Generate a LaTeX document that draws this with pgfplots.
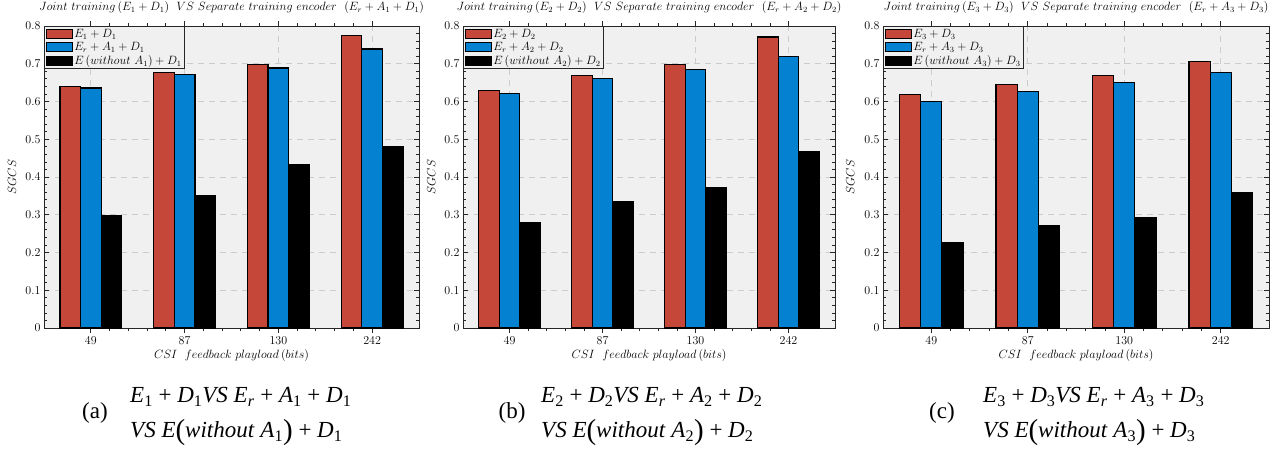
\documentclass[border=0pt]{standalone}
\usepackage{fontspec}
\newfontfamily\capf{Liberation Serif}
\usepackage{pgfplots}
\usepackage{pgfplotstable}
\pgfplotsset{compat=1.18}

\definecolor{cred}{HTML}{C4473A}
\definecolor{cblue}{HTML}{0481D1}
\definecolor{bgax}{HTML}{F0F0F0}
\definecolor{axline}{HTML}{262626}

% SGCS per payload (49, 87, 130, 242 bits)
\pgfplotstableread{
x joint sep wo
0 0.640 0.636 0.297
1 0.677 0.671 0.350
2 0.698 0.689 0.434
3 0.774 0.739 0.481
}\tabA
\pgfplotstableread{
x joint sep wo
0 0.629 0.622 0.279
1 0.669 0.661 0.336
2 0.697 0.684 0.372
3 0.771 0.719 0.466
}\tabB
\pgfplotstableread{
x joint sep wo
0 0.618 0.601 0.227
1 0.644 0.627 0.271
2 0.669 0.651 0.292
3 0.706 0.676 0.359
}\tabC

\newcommand\cv[2]{\textit{#1}\textsubscript{#2}}
\newcommand\bp[1]{\raisebox{-2pt}{\fontsize{29}{29}\selectfont #1}}

\pgfplotsset{
  lim/.style={legend image code/.code={\draw[##1] (0pt,-4.6pt) rectangle (26pt,4.6pt);}},
  panel/.style={
    scale only axis, height=302pt, anchor=south west,
    ybar=0pt, bar width=0.22,
    ymin=0, ymax=0.8, xmin=-0.5, xmax=3.5,
    xtick={0,1,2,3}, xticklabels={49,87,130,242},
    ytick={0,0.1,0.2,0.3,0.4,0.5,0.6,0.7,0.8},
    minor y tick num=4, minor x tick num=4,
    grid=major,
    major grid style={dash pattern=on 6pt off 5pt, color=black!20, line width=0.9pt},
    axis background/.style={fill=bgax},
    axis line style={axline, line width=1pt},
    tick style={axline, line width=0.8pt},
    major tick length=5pt, minor tick length=3pt,
    tick label style={font=\fontsize{12}{14}\selectfont},
    title={$Joint\ training\,(E_#1+D_#1)\ \ VS\ Separate\ training\ encoder\ \ (E_r+A_#1+D_#1)$},
    title style={font=\fontsize{11.6}{13}\selectfont, at={(axis description cs:0.5,1)}, anchor=south, inner sep=0pt, yshift=6pt},
    xlabel={$CSI\ \ feedback\ playload\,(bits)$},
    xlabel style={font=\fontsize{11.5}{13}\selectfont, at={(axis description cs:0.5,-0.09)}, anchor=center},
    ylabel={$SGCS$},
    ylabel style={font=\fontsize{11.5}{13}\selectfont, at={(axis description cs:-0.085,0.5)}, anchor=center},
    legend style={at={(0,1)}, anchor=north west, draw=axline, line width=1.2pt, fill=bgax,
      font=\fontsize{12}{13}\selectfont, inner sep=1.5pt, row sep=1.6pt,
      nodes={inner sep=1pt}, cells={anchor=west}},
  },
}

\begin{document}
\begin{tikzpicture}
\useasboundingbox (0,0) rectangle (1280pt,451pt);

\begin{axis}[panel=1, width=375pt, at={(44pt,123pt)}]
  \addplot[fill=cred, draw=black, line width=1.2pt, lim] table[x=x,y=joint]{\tabA};
  \addplot[fill=cblue, draw=black, line width=1.2pt, lim] table[x=x,y=sep]{\tabA};
  \addplot[fill=black, draw=black, line width=1.2pt, lim] table[x=x,y=wo]{\tabA};
  \legend{$E_1+D_1$, $E_r+A_1+D_1$, $E\,(without\ A_1)+D_1$}
\end{axis}

\begin{axis}[panel=2, width=372pt, at={(463pt,123pt)}]
  \addplot[fill=cred, draw=black, line width=1.2pt, lim] table[x=x,y=joint]{\tabB};
  \addplot[fill=cblue, draw=black, line width=1.2pt, lim] table[x=x,y=sep]{\tabB};
  \addplot[fill=black, draw=black, line width=1.2pt, lim] table[x=x,y=wo]{\tabB};
  \legend{$E_2+D_2$, $E_r+A_2+D_2$, $E\,(without\ A_2)+D_2$}
\end{axis}

\begin{axis}[panel=3, width=386pt, at={(883pt,123pt)}]
  \addplot[fill=cred, draw=black, line width=1.2pt, lim] table[x=x,y=joint]{\tabC};
  \addplot[fill=cblue, draw=black, line width=1.2pt, lim] table[x=x,y=sep]{\tabC};
  \addplot[fill=black, draw=black, line width=1.2pt, lim] table[x=x,y=wo]{\tabC};
  \legend{$E_3+D_3$, $E_r+A_3+D_3$, $E\,(without\ A_3)+D_3$}
\end{axis}

% sub-captions
\begin{scope}[every node/.style={font=\capf\fontsize{23}{26}\selectfont, inner sep=0pt}]
  \node at (95pt,38pt) {(a)};
  \node[anchor=west] at (130pt,54pt) {\cv{E}{1} + \cv{D}{1}\textit{VS} \cv{E}{\textit{r}} + \cv{A}{1} + \cv{D}{1}};
  \node[anchor=west] at (130pt,18pt) {\textit{VS E}\bp{(}\textit{without} \cv{A}{1}\bp{)} + \cv{D}{1}};
  \node at (512pt,38pt) {(b)};
  \node[anchor=west] at (541pt,54pt) {\cv{E}{2} + \cv{D}{2}\textit{VS} \cv{E}{\textit{r}} + \cv{A}{2} + \cv{D}{2}};
  \node[anchor=west] at (541pt,18pt) {\textit{VS E}\bp{(}\textit{without} \cv{A}{2}\bp{)} + \cv{D}{2}};
  \node at (942pt,38pt) {(c)};
  \node[anchor=west] at (983pt,54pt) {\cv{E}{3} + \cv{D}{3}\textit{VS} \cv{E}{\textit{r}} + \cv{A}{3} + \cv{D}{3}};
  \node[anchor=west] at (983pt,18pt) {\textit{VS E}\bp{(}\textit{without} \cv{A}{3}\bp{)} + \cv{D}{3}};
\end{scope}
\end{tikzpicture}
\end{document}
